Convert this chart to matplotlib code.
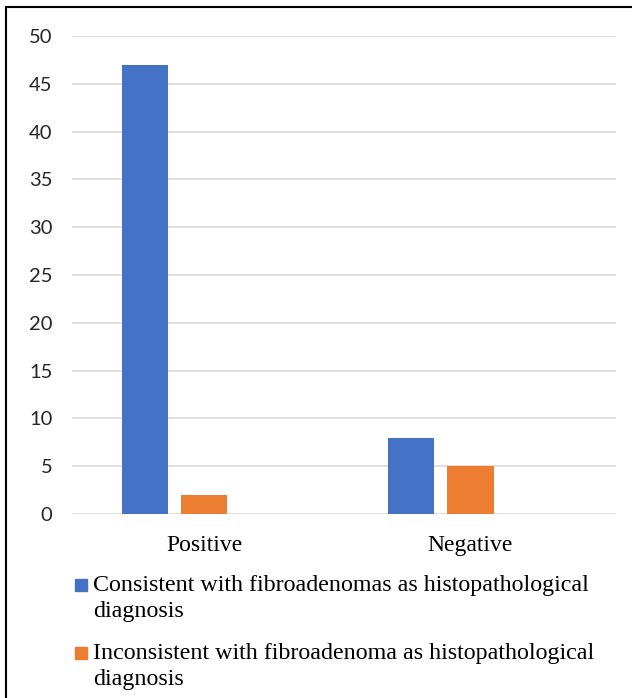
import matplotlib
matplotlib.use("Agg")
import matplotlib.pyplot as plt
from matplotlib.patches import Rectangle
import numpy as np

categories = ["Positive", "Negative"]
series_names = [
    "Consistent with fibroadenomas as histopathological\ndiagnosis",
    "Inconsistent with fibroadenoma as histopathological\ndiagnosis",
]
consistent = [47, 8]
inconsistent = [2, 5]
series_values = [consistent, inconsistent]
colors = ["#4472C4", "#ED7D31"]
yticks = [0, 5, 10, 15, 20, 25, 30, 35, 40, 45, 50]

W, H = 632, 698
fig = plt.figure(figsize=(W / 100, H / 100), dpi=100)
ax = fig.add_axes([72 / W, 1 - 514 / H, (616 - 72) / W, (514 - 36) / H])

x = np.arange(len(categories))
step = 0.222
width = 0.173
offsets = [-step, 0.0]
for vals, off, c in zip(series_values, offsets, colors):
    ax.bar(x + off, vals, width=width, color=c, zorder=3)

ax.set_ylim(0, 50)
ax.set_xlim(-0.498, 1.547)
ax.set_yticks(yticks)
ax.set_yticklabels([str(t) for t in yticks], family="Lato", fontsize=14.5, color="#262626")
ax.set_xticks(x)
ax.set_xticklabels(categories, family="Liberation Serif", fontsize=17, color="#000000")
ax.tick_params(axis="both", length=0)
ax.tick_params(axis="y", pad=14)
ax.tick_params(axis="x", pad=15)
ax.grid(axis="y", color="#D9D9D9", linewidth=1.2, zorder=0)
for s in ax.spines.values():
    s.set_visible(False)

# legend drawn manually below the plot (baseline of first line, in px)
legend_baseline_px = [590.5, 658.5]
line_pitch = 26
for name, c, ypx in zip(series_names, colors, legend_baseline_px):
    fig.add_artist(Rectangle((75 / W, 1 - ypx / H), 12 / W, 12 / H,
                             transform=fig.transFigure, color=c))
    fig.text(93 / W, 1 - (ypx + line_pitch) / H, name, family="Liberation Serif",
             fontsize=17.3, va="baseline", ha="left", linespacing=1.28)

# frame (left and top edges visible)
fig.add_artist(Rectangle((6 / W, -0.1), 1.2, 1 - 7 / H + 0.1, transform=fig.transFigure,
                         fill=False, edgecolor="#000000", linewidth=1.5))

fig.savefig("out.png", dpi=100, facecolor="white")
